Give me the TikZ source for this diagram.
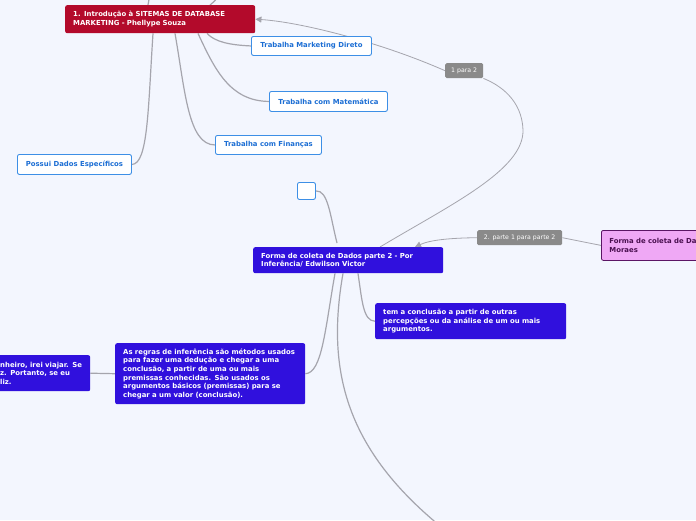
\documentclass[tikz,border=0pt]{standalone}
\usepackage{fontspec}
\setmainfont{DejaVu Sans}
\usetikzlibrary{backgrounds,arrows.meta}

\definecolor{bgcol}{HTML}{F3F6FE}
\definecolor{rootred}{HTML}{B30A2B}
\definecolor{topicblue}{HTML}{3D8FE6}
\definecolor{topictext}{HTML}{1C6ED4}
\definecolor{infer}{HTML}{3010DD}
\definecolor{pinkfill}{HTML}{EFA8F5}
\definecolor{pinkline}{HTML}{5B1565}
\definecolor{pinktext}{HTML}{4A1050}
\definecolor{relgray}{HTML}{8A8A8A}
\definecolor{linegray}{HTML}{A5A5AD}

\tikzset{
  box/.style={anchor=north west, rounded corners=2pt, inner xsep=8pt, inner ysep=0pt,
    font=\fontsize{6.9}{8.6}\selectfont\bfseries, align=left},
  rootbox/.style={box, fill=rootred, text=white},
  topicbox/.style={box, fill=white, draw=topicblue, line width=0.9pt, text=topictext, align=center},
  inferbox/.style={box, fill=infer, text=white},
  pinkbox/.style={box, fill=pinkfill, draw=pinkline, line width=0.8pt, text=pinktext},
  relbox/.style={anchor=north west, rounded corners=1.5pt, fill=relgray, text=white,
    font=\fontsize{6.2}{7}\selectfont, inner sep=0pt},
  branch/.style={draw=linegray, line width=1.2pt},
  rel/.style={draw=linegray, line width=0.8pt},
}

\begin{document}
\begin{tikzpicture}[x=1pt,y=-1pt]
 \useasboundingbox (0,0) rectangle (696,520);
 \clip (0,0) rectangle (696,520);

 % first map
 \node[rootbox, minimum width=190pt, minimum height=28pt, text width=174pt] (root) at (65,5)
   {1. Introdução à SITEMAS DE DATABASE\\MARKETING - Phellype Souza};
 \node[topicbox, minimum width=120pt, minimum height=19pt] (mkt) at (251,36) {Trabalha Marketing Direto};
 \node[topicbox, minimum width=118pt, minimum height=20pt] (mat) at (269,91) {Trabalha com Matemática};
 \node[topicbox, minimum width=106pt, minimum height=19pt] (fin) at (215,135) {Trabalha com Finanças};
 \node[topicbox, minimum width=114pt, minimum height=20pt] (possui) at (17,154) {Possui Dados Específicos};

 % second map
 \node[topicbox, minimum width=18pt, minimum height=17pt] (empty) at (297,182) {};
 \node[inferbox, minimum width=190pt, minimum height=26pt, text width=174pt] (central) at (253,247)
   {Forma de coleta de Dados parte 2 - Por\\Inferência/ Edwilson Victor};
 \node[inferbox, minimum width=191pt, minimum height=36pt, text width=175pt] (tem) at (375,303)
   {tem a conclusão a partir de outras\\percepções ou da análise de um ou mais\\argumentos.};
 \node[inferbox, minimum width=190pt, minimum height=61pt, text width=174pt] (regras) at (115,343)
   {As regras de inferência são métodos usados\\para fazer uma dedução e chegar a uma\\conclusão, a partir de uma ou mais\\premissas conhecidas. São usados os\\argumentos básicos (premissas) para se\\chegar a um valor (conclusão).};
 \node[inferbox, minimum width=98pt, minimum height=36pt, text width=82pt] (exemplo) at (-8,355)
   {nheiro, irei viajar. Se\\z. Portanto, se eu\\liz.};
 \node[pinkbox, minimum width=120pt, minimum height=30pt, text width=104pt] (parte1) at (601,230)
   {Forma de coleta de Da\\Moraes};

 % relation labels
 \node[relbox, minimum width=38pt, minimum height=15pt] (lbl1) at (445,63) {1 para 2};
 \node[relbox, minimum width=85pt, minimum height=15pt] (lbl2) at (477,230) {2. parte 1 para parte 2};

 \coordinate (up1) at (150,-10);
 \coordinate (up2) at (222,-10);
 \coordinate (down) at (445,530);

 \begin{pgfonlayer}{background}
 \clip (0,0) rectangle (696,520);
 \fill[bgcol] (0,0) rectangle (696,520);

 \draw[branch] ([xshift=83]root.north west) .. controls (149,0) .. (up1);
 \draw[branch] ([xshift=145]root.north west) .. controls (216,0) .. (up2);
 \draw[branch] ([xshift=142]root.south west) .. controls (215,42) and (230,45) .. (mkt.west);
 \draw[branch] ([xshift=133]root.south west) .. controls (215,70) and (230,101) .. (mat.west);
 \draw[branch] ([xshift=110]root.south west) .. controls (185,90) and (188,145) .. (fin.west);
 \draw[branch] ([xshift=88]root.south west) .. controls (148,110) and (148,164) .. (possui.east);

 \draw[branch] (empty.east) .. controls (328,190) and (330,215) .. ([xshift=84,yshift=4]central.north west);
 \draw[branch] ([xshift=82]central.south west) .. controls (325,330) and (322,373) .. (regras.east);
 \draw[branch] ([xshift=105]central.south west) .. controls (362,300) and (363,321) .. (tem.west);
 \draw[branch] ([xshift=90]central.south west) .. controls (326,370) and (345,450) .. (down);
 \draw[branch] (regras.west) -- (exemplo.east);

 \draw[rel] ([xshift=127]central.north west) .. controls (450,205) and (524,170) .. (523,130)
   .. controls (522,100) and (500,85) .. (lbl1.south east);
 \draw[rel, -{Triangle[length=6pt,width=6pt]}] (lbl1.west) .. controls (380,42) and (300,22) .. (root.east);
 \draw[rel] (parte1.west) -- (lbl2.east);
 \draw[rel, -{Triangle[length=6pt,width=6pt]}] (lbl2.west) .. controls (450,238) and (430,240) .. ([xshift=162]central.north west);
 \end{pgfonlayer}
\end{tikzpicture}
\end{document}
